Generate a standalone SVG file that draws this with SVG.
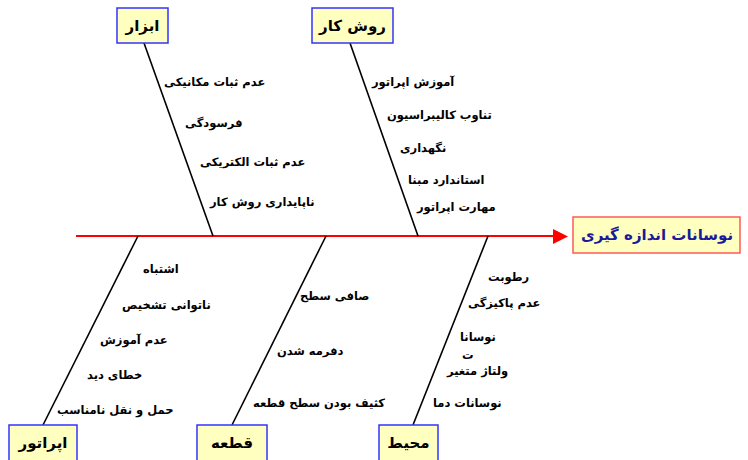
<svg xmlns="http://www.w3.org/2000/svg" width="748" height="460" viewBox="0 0 748 460">
<style>
.box{fill:#ffffc0;stroke:#3333ff;stroke-width:1.5}
.main{fill:#ffffc0;stroke:#ff5a5a;stroke-width:1.5}
.lbl{font-family:"DejaVu Sans",sans-serif;font-weight:bold;font-size:15px;fill:#000;text-anchor:middle}
.ttl{font-family:"DejaVu Sans",sans-serif;font-weight:bold;font-size:15px;fill:#1a1a9a;text-anchor:middle}
.c{font-family:"DejaVu Sans",sans-serif;font-weight:bold;font-size:11.5px;fill:#000;text-anchor:start}
.bone{stroke:#000;stroke-width:1.6;fill:none}
</style>
<g id="connectors">
<line x1="76" y1="236" x2="554" y2="236" stroke="#ff0000" stroke-width="2"/>
<path d="M553,229 L568,236.5 L553,244 Z" fill="#ff0000"/>
<line class="bone" x1="144" y1="43" x2="213" y2="236"/>
<line class="bone" x1="350" y1="43" x2="418" y2="236"/>
<line class="bone" x1="138" y1="236" x2="43" y2="425" stroke-width="1.2"/>
<line class="bone" x1="326" y1="236" x2="232" y2="425" stroke-width="1.2"/>
<line class="bone" x1="488" y1="236" x2="413" y2="425"/>
</g>
<g id="effect">
<rect class="main" x="573" y="217" width="167" height="36"/>
<text class="ttl" x="657" y="240">نوسانات اندازه گیری</text>
</g>
<g id="tools">
<rect class="box" x="117" y="8" width="51" height="35"/>
<text class="lbl" x="142.5" y="31">ابزار</text>
<text class="c" x="164" y="86">عدم ثبات مکانیکی</text>
<text class="c" x="185" y="127">فرسودگی</text>
<text class="c" x="200" y="166">عدم ثبات الکتریکی</text>
<text class="c" x="210" y="206">ناپایداری روش کار</text>
</g>
<g id="method">
<rect class="box" x="312" y="8" width="81" height="35"/>
<text class="lbl" x="352.5" y="31">روش کار</text>
<text class="c" x="372" y="86">آموزش اپراتور</text>
<text class="c" x="387" y="119">تناوب کالیبراسیون</text>
<text class="c" x="400" y="152">نگهداری</text>
<text class="c" x="408" y="184">استاندارد مبنا</text>
<text class="c" x="417" y="211">مهارت اپراتور</text>
</g>
<g id="operator">
<rect class="box" x="9" y="425" width="68" height="40"/>
<text class="lbl" x="43" y="448">اپراتور</text>
<text class="c" x="143" y="273">اشتباه</text>
<text class="c" x="122" y="309">ناتوانی تشخیص</text>
<text class="c" x="100" y="344">عدم آموزش</text>
<text class="c" x="87" y="379">خطای دید</text>
<text class="c" x="57" y="414">حمل و نقل نامناسب</text>
</g>
<g id="part">
<rect class="box" x="197" y="425" width="70" height="40"/>
<text class="lbl" x="232" y="448">قطعه</text>
<text class="c" x="300" y="300">صافی سطح</text>
<text class="c" x="277" y="355">دفرمه شدن</text>
<text class="c" x="253" y="407">کثیف بودن سطح قطعه</text>
</g>
<g id="environment">
<rect class="box" x="379" y="425" width="59" height="40"/>
<text class="lbl" x="408.5" y="448">محیط</text>
<text class="c" x="488" y="281">رطوبت</text>
<text class="c" x="468" y="307">عدم پاکیزگی</text>
<text class="c" x="460" y="341">نوسانا</text>
<text class="c" x="462" y="359">ت</text>
<text class="c" x="447" y="375">ولتاژ متغیر</text>
<text class="c" x="433" y="407">نوسانات دما</text>
</g>
</svg>
